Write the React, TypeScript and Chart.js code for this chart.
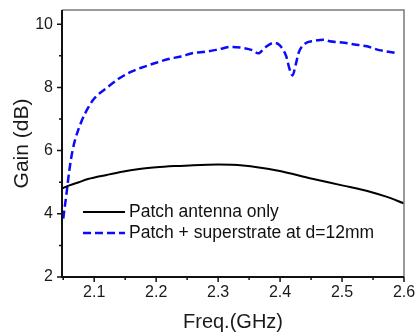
import React, { useEffect, useRef } from "react";
import { Chart, registerables } from "chart.js";

Chart.register(...registerables);

const FONT = "'Liberation Sans', Arial, sans-serif";

const freqPatch = [2.048, 2.06, 2.075, 2.09, 2.12, 2.145, 2.17, 2.2, 2.23, 2.26, 2.3, 2.34, 2.395, 2.45, 2.5, 2.545, 2.57, 2.6];
const gainPatch = [4.8, 4.9, 5.0, 5.1, 5.23, 5.33, 5.41, 5.47, 5.51, 5.54, 5.56, 5.53, 5.37, 5.12, 4.9, 4.7, 4.55, 4.33];

const freqSuper = [2.05, 2.055, 2.06, 2.065, 2.07, 2.08, 2.09, 2.1, 2.12, 2.14, 2.16, 2.18, 2.2, 2.22, 2.24, 2.26, 2.28, 2.3, 2.32, 2.34, 2.355, 2.365, 2.375, 2.39, 2.4, 2.41, 2.415, 2.42, 2.425, 2.43, 2.44, 2.455, 2.47, 2.48, 2.5, 2.52, 2.54, 2.56, 2.575, 2.59];
const gainSuper = [3.85, 4.6, 5.4, 6.0, 6.4, 6.95, 7.35, 7.65, 7.98, 8.28, 8.5, 8.65, 8.78, 8.9, 8.98, 9.09, 9.13, 9.2, 9.28, 9.25, 9.18, 9.08, 9.25, 9.41, 9.32, 8.98, 8.6, 8.38, 8.7, 9.1, 9.38, 9.47, 9.51, 9.46, 9.42, 9.36, 9.3, 9.18, 9.13, 9.08];

const xTicks = [2.1, 2.2, 2.3, 2.4, 2.5, 2.6];
const xMinor = [2.05, 2.15, 2.25, 2.35, 2.45, 2.55];
const yTicks = [2, 4, 6, 8, 10];
const yMinor = [3, 5, 7, 9];

const seriesLabels = ["Patch antenna only", "Patch + superstrate at d=12mm"];

const framePlugin = {
  id: "frame",
  afterDraw(chart: any) {
    const { ctx, chartArea: a, scales } = chart;
    const xs = scales.x;
    const ys = scales.y;
    ctx.save();
    ctx.strokeStyle = "#7a7a7a";
    ctx.lineWidth = 1.5;
    ctx.beginPath();
    ctx.moveTo(a.left, a.top);
    ctx.lineTo(a.right, a.top);
    ctx.lineTo(a.right, a.bottom);
    ctx.stroke();
    ctx.strokeStyle = "#111";
    ctx.lineWidth = 2;
    ctx.beginPath();
    ctx.moveTo(a.left, a.top);
    ctx.lineTo(a.left, a.bottom);
    ctx.lineTo(a.right, a.bottom);
    ctx.stroke();
    ctx.lineWidth = 1.5;
    ctx.beginPath();
    for (const v of xTicks) {
      const p = xs.getPixelForValue(v);
      ctx.moveTo(p, a.bottom);
      ctx.lineTo(p, a.bottom + 5);
    }
    for (const v of xMinor) {
      const p = xs.getPixelForValue(v);
      ctx.moveTo(p, a.bottom);
      ctx.lineTo(p, a.bottom + 3);
    }
    for (const v of yTicks) {
      const p = ys.getPixelForValue(v);
      ctx.moveTo(a.left, p);
      ctx.lineTo(a.left - 5, p);
    }
    for (const v of yMinor) {
      const p = ys.getPixelForValue(v);
      ctx.moveTo(a.left, p);
      ctx.lineTo(a.left - 3, p);
    }
    ctx.stroke();
    const ds = chart.data.datasets;
    const lx = a.left + 21;
    let ly = a.bottom - 65;
    for (let i = 0; i < ds.length; i++) {
      ctx.strokeStyle = ds[i].borderColor;
      ctx.lineWidth = ds[i].borderWidth;
      ctx.setLineDash(ds[i].borderDash || []);
      ctx.beginPath();
      ctx.moveTo(lx, ly);
      ctx.lineTo(lx + 42, ly);
      ctx.stroke();
      ctx.setLineDash([]);
      ctx.fillStyle = "#111";
      ctx.font = `17.5px ${FONT}`;
      ctx.textBaseline = "middle";
      ctx.textAlign = "left";
      ctx.fillText(ds[i].label, lx + 46, ly);
      ly += 21;
    }
    ctx.restore();
  },
};

export default function App() {
  const ref = useRef<HTMLCanvasElement | null>(null);
  useEffect(() => {
    if (!ref.current) return;
    const chart = new Chart(ref.current, {
      type: "line",
      data: {
        datasets: [
          {
            label: seriesLabels[0],
            data: freqPatch.map((x, i) => ({ x, y: gainPatch[i] })),
            borderColor: "#000000",
            borderWidth: 2,
            pointRadius: 0,
            cubicInterpolationMode: "monotone",
            fill: false,
          },
          {
            label: seriesLabels[1],
            data: freqSuper.map((x, i) => ({ x, y: gainSuper[i] })),
            borderColor: "#0a0aff",
            borderWidth: 2.5,
            borderDash: [8, 4],
            pointRadius: 0,
            cubicInterpolationMode: "monotone",
            fill: false,
          },
        ],
      },
      options: {
        animation: false,
        responsive: false,
        layout: { padding: { top: 10, right: 13, left: 0, bottom: 0 } },
        plugins: { legend: { display: false }, tooltip: { enabled: false } },
        scales: {
          x: {
            type: "linear",
            min: 2.048,
            max: 2.6,
            grid: { display: false, drawTicks: false },
            border: { display: false },
            afterBuildTicks: (s: any) => {
              s.ticks = xTicks.map((v) => ({ value: v }));
            },
            afterFit: (s: any) => {
              s.height = 58;
              s.paddingLeft = 0;
              s.paddingRight = 0;
            },
            ticks: {
              padding: 6,
              autoSkip: false,
              maxRotation: 0,
              color: "#1a1a1a",
              font: { family: FONT, size: 16 },
              callback: (v: any) => Number(v).toFixed(1),
            },
            title: {
              display: true,
              text: "Freq.(GHz)",
              color: "#1a1a1a",
              font: { family: FONT, size: 20 },
              padding: { top: 0, bottom: 1 },
            },
          },
          y: {
            type: "linear",
            min: 2,
            max: 10.45,
            grid: { display: false, drawTicks: false },
            border: { display: false },
            afterBuildTicks: (s: any) => {
              s.ticks = yTicks.map((v) => ({ value: v }));
            },
            afterFit: (s: any) => {
              s.width = 62;
              s.paddingTop = 0;
              s.paddingBottom = 0;
            },
            ticks: {
              padding: 9,
              color: "#1a1a1a",
              font: { family: FONT, size: 16 },
              callback: (v: any) => String(v),
            },
            title: {
              display: true,
              text: "Gain (dB)",
              color: "#1a1a1a",
              font: { family: FONT, size: 21 },
              padding: { top: 10, bottom: 0 },
            },
          },
        },
      },
      plugins: [framePlugin],
    });
    return () => chart.destroy();
  }, []);
  return (
    <div style={{ position: "absolute", left: 0, top: 0, width: 417, height: 335, background: "#fff" }}>
      <canvas ref={ref} width={417} height={335} style={{ display: "block" }} />
    </div>
  );
}
